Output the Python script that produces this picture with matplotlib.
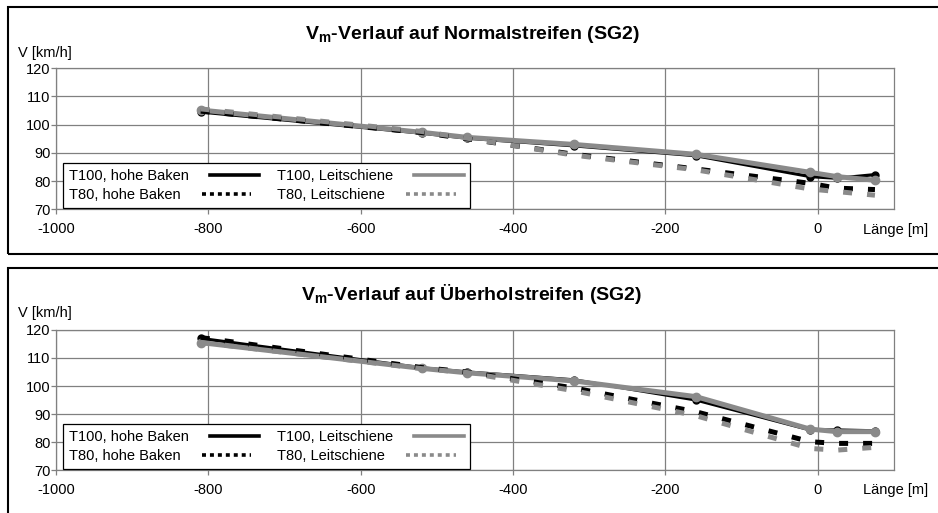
import matplotlib
matplotlib.use("Agg")
import matplotlib.pyplot as plt
from matplotlib.lines import Line2D
from matplotlib.patches import Rectangle

plt.rcParams['font.family'] = ['Liberation Sans', 'DejaVu Sans']
plt.rcParams['mathtext.fontset'] = 'custom'
plt.rcParams['mathtext.rm'] = 'Liberation Sans'
plt.rcParams['mathtext.bf'] = 'Liberation Sans:bold'

# ---- data ----
x_pts = [-810, -520, -460, -320, -160, -10, 25, 75]

# Normalstreifen
n_t100_baken = [104.5, 97.0, 95.2, 92.5, 89.0, 81.6, 81.0, 82.3]
n_t100_leit = [105.2, 97.3, 95.5, 93.0, 89.5, 83.1, 81.6, 80.3]
n_t80_baken = [104.8, 97.2, 95.0, 89.5, 84.3, 79.2, 77.5, 77.0]
n_t80_leit = [105.6, 97.6, 95.2, 89.2, 84.0, 77.2, 76.3, 75.0]

# Überholstreifen
u_t100_baken = [117.0, 106.5, 105.0, 102.2, 95.0, 84.3, 84.3, 84.0]
u_t100_leit = [115.5, 106.3, 104.7, 101.8, 96.2, 84.6, 83.7, 83.7]
u_t80_baken = [117.3, 106.6, 105.0, 99.3, 90.8, 80.1, 79.5, 79.5]
u_t80_leit = [115.6, 106.2, 104.8, 98.3, 89.4, 77.7, 77.1, 78.1]

labels = ["T100, hohe Baken", "T80, hohe Baken", "T100, Leitschiene", "T80, Leitschiene"]
titles = [r"$\mathbf{V_{m}}$-Verlauf auf Normalstreifen (SG2)",
          r"$\mathbf{V_{m}}$-Verlauf auf Überholstreifen (SG2)"]
xticks = [-1000, -800, -600, -400, -200, 0]
yticks = [70, 80, 90, 100, 110, 120]

BLACK = "#000000"
GREY = "#8a8a8a"
GRIDC = "#808080"

fig = plt.figure(figsize=(9.38, 5.13), dpi=100)

# outer frames
fig.add_artist(Rectangle((8/938, 1-254/513), 1.0, (254-7)/513, transform=fig.transFigure,
                         fill=False, edgecolor="black", linewidth=1.5))
fig.add_artist(Rectangle((8/938, -0.1), 1.0, 0.1 + (513-268)/513, transform=fig.transFigure,
                         fill=False, edgecolor="black", linewidth=1.5))

panels = [
    dict(rect=[56/938, 1-209.3/513, (894-56)/938, 141/513], data=[n_t100_baken, n_t100_leit, n_t80_baken, n_t80_leit],
         title_y=1-34.5/513, vlab_y=1-53/513, lab_y=1-230/513),
    dict(rect=[56/938, 1-470/513, (894-56)/938, 140/513], data=[u_t100_baken, u_t100_leit, u_t80_baken, u_t80_leit],
         title_y=1-294.5/513, vlab_y=1-313/513, lab_y=1-490/513),
]

for i, p in enumerate(panels):
    ax = fig.add_axes(p['rect'])
    t100b, t100l, t80b, t80l = p['data']
    ax.plot(x_pts, t100b, color=BLACK, lw=2.3, marker='o', ms=5, zorder=3)
    ax.plot(x_pts, t100l, color=GREY, lw=3.6, marker='o', ms=6, zorder=4)
    ax.plot(x_pts, t80b, color=BLACK, lw=3.6, linestyle=(0, (1.8, 3.0)), dash_capstyle='butt', zorder=5)
    ax.plot(x_pts, t80l, color=GREY, lw=3.6, linestyle=(0, (1.8, 3.0)), dash_capstyle='butt', zorder=6)

    ax.set_xlim(-1000, 100)
    ax.set_ylim(70, 120)
    ax.set_xticks(xticks)
    ax.set_xticklabels([str(v) for v in xticks])
    ax.set_yticks(yticks)
    ax.set_yticklabels([str(v) for v in yticks])
    ax.grid(True, color=GRIDC, lw=0.9)
    ax.set_axisbelow(True)
    for s in ax.spines.values():
        s.set_color(GRIDC)
        s.set_linewidth(0.9)
    ax.tick_params(axis='both', labelsize=10.5, color=GRIDC, length=3.5, width=0.9)
    ax.tick_params(axis='y', pad=0.5)
    ax.tick_params(axis='x', pad=6)

    handles = [
        Line2D([], [], color=BLACK, lw=2.6),
        Line2D([], [], color=BLACK, lw=2.6, linestyle=(0, (1.1, 1.1)), dash_capstyle='butt'),
        Line2D([], [], color=GREY, lw=2.6),
        Line2D([], [], color=GREY, lw=2.6, linestyle=(0, (1.1, 1.1)), dash_capstyle='butt'),
    ]
    leg = ax.legend(handles, labels, ncol=2, loc='lower left', bbox_to_anchor=(7/838, 1/141),
                    borderaxespad=0, fontsize=10.5, markerfirst=False, handlelength=3.4,
                    handletextpad=1.45, columnspacing=1.2, labelspacing=0.38, borderpad=0.4,
                    frameon=True, fancybox=False, framealpha=1.0, edgecolor='black')
    leg.get_frame().set_linewidth(0.9)
    leg.set_zorder(10)
    try:
        for col in leg._legend_handle_box.get_children():
            col.align = "baseline"
    except Exception:
        pass

    fig.text(472/938, p['title_y'], titles[i], ha='center', va='center', fontsize=14, fontweight='bold')
    fig.text(18/938, p['vlab_y'], "V [km/h]", ha='left', va='center', fontsize=10.5)
    fig.text(863/938, p['lab_y'], "Länge [m]", ha='left', va='center', fontsize=10.5)

fig.savefig("out.png", dpi=100)
